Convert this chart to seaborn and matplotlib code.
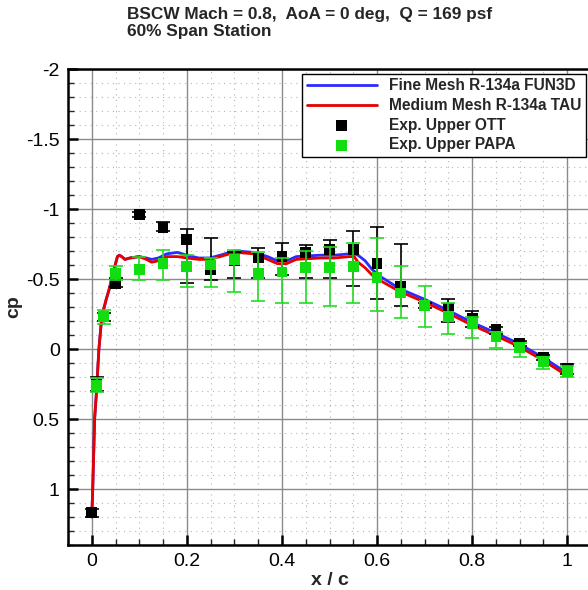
import matplotlib
matplotlib.use("Agg")
import matplotlib.pyplot as plt
from matplotlib.ticker import MultipleLocator
import numpy as np
import pandas as pd
import seaborn as sns

# ---- data ----
cfd_x = [0, 0.002, 0.006, 0.01, 0.015, 0.021, 0.03, 0.036, 0.045, 0.05, 0.054, 0.058, 0.063,
         0.07, 0.08, 0.1, 0.115, 0.126, 0.14, 0.158, 0.18, 0.2, 0.225, 0.248, 0.27, 0.29,
         0.305, 0.34, 0.37, 0.39, 0.41, 0.43, 0.48, 0.51, 0.543, 0.552, 0.56, 0.575, 0.589,
         0.606, 0.648, 0.7, 0.747, 0.8, 0.85, 0.897, 0.949, 0.99]
fun3d_cp = [1.2, 1.0, 0.5, 0.3, 0.0, -0.23, -0.35, -0.42, -0.54, -0.61, -0.66, -0.67, -0.66,
            -0.64, -0.65, -0.66, -0.65, -0.64, -0.65, -0.68, -0.69, -0.67, -0.65, -0.65, -0.67, -0.69,
            -0.70, -0.69, -0.66, -0.63, -0.63, -0.66, -0.67, -0.67, -0.68, -0.68, -0.67, -0.63, -0.57,
            -0.52, -0.43, -0.355, -0.28, -0.19, -0.115, -0.04, 0.06, 0.15]
tau_cp = [1.2, 1.0, 0.5, 0.3, 0.0, -0.23, -0.35, -0.42, -0.54, -0.61, -0.66, -0.67, -0.66,
          -0.64, -0.65, -0.66, -0.64, -0.62, -0.63, -0.66, -0.66, -0.65, -0.64, -0.64, -0.66, -0.68,
          -0.69, -0.68, -0.64, -0.61, -0.61, -0.64, -0.65, -0.65, -0.66, -0.66, -0.62, -0.58, -0.53,
          -0.49, -0.41, -0.335, -0.26, -0.17, -0.095, -0.02, 0.08, 0.17]

ott_x = [0, 0.01, 0.025, 0.05, 0.1, 0.15, 0.2, 0.25, 0.3, 0.35, 0.4, 0.45, 0.5, 0.55,
         0.6, 0.65, 0.7, 0.75, 0.8, 0.85, 0.9, 0.95, 1.0]
ott_cp = [1.17, 0.25, -0.23, -0.47, -0.96, -0.87, -0.78, -0.57, -0.63, -0.65, -0.66, -0.69,
          -0.71, -0.71, -0.61, -0.45, -0.31, -0.29, -0.22, -0.14, -0.04, 0.06, 0.14]
ott_lo = [1.14, 0.20, -0.26, -0.51, -0.98, -0.91, -0.86, -0.79, -0.69, -0.72, -0.76, -0.74,
          -0.78, -0.84, -0.87, -0.75, -0.33, -0.36, -0.27, -0.16, -0.06, 0.04, 0.11]
ott_hi = [1.20, 0.30, -0.20, -0.44, -0.94, -0.84, -0.47, -0.49, -0.51, -0.51, -0.53, -0.51,
          -0.51, -0.45, -0.36, -0.31, -0.29, -0.19, -0.16, -0.11, -0.02, 0.08, 0.18]

papa_x = [0.01, 0.025, 0.05, 0.1, 0.15, 0.2, 0.25, 0.3, 0.35, 0.4, 0.45, 0.5, 0.55,
          0.6, 0.65, 0.7, 0.75, 0.8, 0.85, 0.9, 0.95, 1.0]
papa_cp = [0.26, -0.23, -0.54, -0.57, -0.61, -0.59, -0.60, -0.64, -0.54, -0.55, -0.58, -0.58,
           -0.59, -0.51, -0.40, -0.31, -0.23, -0.18, -0.09, -0.01, 0.09, 0.16]
papa_lo = [0.21, -0.28, -0.59, -0.66, -0.71, -0.67, -0.65, -0.71, -0.69, -0.65, -0.70, -0.73,
           -0.76, -0.79, -0.59, -0.45, -0.33, -0.23, -0.12, -0.04, 0.06, 0.12]
papa_hi = [0.31, -0.18, -0.49, -0.49, -0.49, -0.44, -0.44, -0.41, -0.34, -0.33, -0.33, -0.31,
           -0.33, -0.27, -0.22, -0.16, -0.11, -0.08, -0.01, 0.06, 0.14, 0.20]

title_text = "BSCW Mach = 0.8,  AoA = 0 deg,  Q = 169 psf\n60% Span Station"
labels = ["Fine Mesh R-134a FUN3D", "Medium Mesh R-134a TAU",
          "Exp. Upper OTT", "Exp. Upper PAPA"]

# ---- style ----
sns.set_style("white")
plt.rcParams['font.family'] = ['Liberation Sans', 'DejaVu Sans']

fig = plt.figure(figsize=(5.88, 5.90), dpi=100)
ax = fig.add_axes([68/588, 45/590, 523/588, 476/590])

cfd = pd.DataFrame({"x": cfd_x, "fun3d": fun3d_cp, "tau": tau_cp})
ott = pd.DataFrame({"x": ott_x, "cp": ott_cp, "lo": ott_lo, "hi": ott_hi})
papa = pd.DataFrame({"x": papa_x, "cp": papa_cp, "lo": papa_lo, "hi": papa_hi})

sns.lineplot(data=cfd, x="x", y="fun3d", ax=ax, color="#2b2bff", lw=2.0,
             sort=False, label=labels[0], zorder=3)
sns.lineplot(data=cfd, x="x", y="tau", ax=ax, color="#e60000", lw=2.0,
             sort=False, label=labels[1], zorder=3.1)

ax.errorbar(ott["x"], ott["cp"],
            yerr=[ott["cp"] - ott["lo"], ott["hi"] - ott["cp"]],
            fmt="none", ecolor="black", elinewidth=1.2, capsize=5, capthick=1.2, zorder=4)
sns.scatterplot(data=ott, x="x", y="cp", ax=ax, marker="s", s=60, color="black",
                edgecolor="none", label=labels[2], zorder=5)
ax.errorbar(papa["x"], papa["cp"],
            yerr=[papa["cp"] - papa["lo"], papa["hi"] - papa["cp"]],
            fmt="none", ecolor="#22dd22", elinewidth=1.2, capsize=5, capthick=1.2, zorder=6)
sns.scatterplot(data=papa, x="x", y="cp", ax=ax, marker="s", s=60, color="#11dd11",
                edgecolor="none", label=labels[3], zorder=7)

ax.set_xlim(-0.05, 1.05)
ax.set_ylim(1.4, -2.0)
ax.xaxis.set_minor_locator(MultipleLocator(0.05))
ax.yaxis.set_minor_locator(MultipleLocator(0.1))
ax.set_xticks([0, 0.2, 0.4, 0.6, 0.8, 1.0])
ax.set_xticklabels(["0", "0.2", "0.4", "0.6", "0.8", "1"])
ax.set_yticks([-2, -1.5, -1, -0.5, 0, 0.5, 1])
ax.set_yticklabels(["-2", "-1.5", "-1", "-0.5", "0", "0.5", "1"])

ax.grid(which="major", color="#8a8a8a", lw=1.0, ls="-", zorder=0)
ax.grid(which="minor", color="#b5b5b5", lw=0.8, ls=(0, (1, 4)), zorder=0)
ax.set_axisbelow(True)

ax.tick_params(which="major", direction="in", length=7, width=1.8, labelsize=14,
               colors="black", pad=6, left=True, bottom=True)
ax.tick_params(which="minor", direction="in", length=4, width=1.0,
               left=True, bottom=True)
for sp in ax.spines.values():
    sp.set_color("black")
    sp.set_linewidth(1.8)

ax.set_xlabel("x / c", fontsize=14, fontweight="bold", labelpad=1)
ax.set_ylabel("cp", fontsize=14, fontweight="bold", labelpad=3)

fig.text(127/588, 1 - 7/590, title_text, ha="left", va="top",
         fontsize=12.4, fontweight="bold", linespacing=1.2)

leg = ax.legend(loc="upper right", prop={"weight": "bold", "size": 11.2},
                frameon=True, fancybox=False, framealpha=1, edgecolor="black",
                handlelength=4.5, borderaxespad=0.3, labelspacing=0.3,
                handletextpad=0.8, borderpad=0.3)
leg.get_frame().set_linewidth(1.0)

fig.savefig("out.png", dpi=100)
